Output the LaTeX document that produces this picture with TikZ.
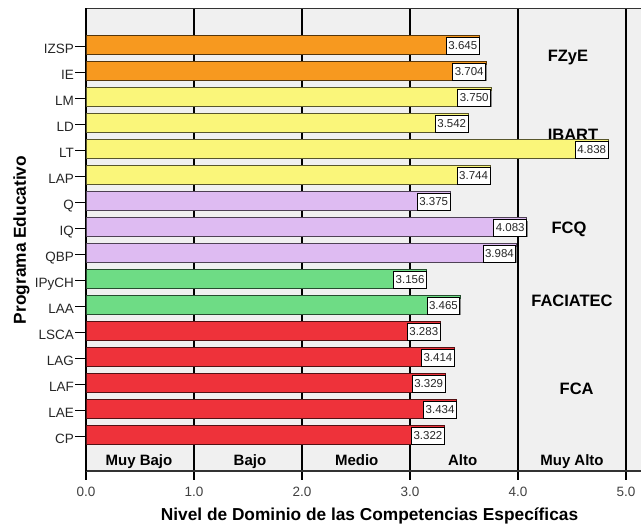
\documentclass[tikz,border=0pt]{standalone}
\usepackage{fontspec}
\setmainfont{Liberation Sans}
\usetikzlibrary{shadows}
\definecolor{bgc}{HTML}{F0F0F0}
\definecolor{cOr}{HTML}{F7991F}
\definecolor{cYe}{HTML}{FAF67A}
\definecolor{cLa}{HTML}{DEBBF2}
\definecolor{cGr}{HTML}{6EDC85}
\definecolor{cRe}{HTML}{EE323A}
\definecolor{tickc}{HTML}{404040}
\begin{document}
\begin{tikzpicture}[x=1pt,y=-1pt,
  ylab/.style={anchor=base east, inner sep=0pt, font=\fontsize{13.5}{15}\selectfont, text=black!85},
  valbox/.style={draw=black, line width=0.8pt, fill=white, inner xsep=2pt, inner ysep=0pt,
    minimum height=16.5pt, anchor=east, font=\fontsize{11.5}{12}\selectfont, text=black!85,
    drop shadow={shadow xshift=1pt, shadow yshift=-1pt, fill=black!45, opacity=1}},
  catlab/.style={anchor=base, inner sep=0pt, font=\bfseries\fontsize{15}{17}\selectfont},
  grplab/.style={anchor=base, inner sep=0pt, font=\bfseries\fontsize{16.5}{18}\selectfont},
  ticklab/.style={anchor=base, inner sep=0pt, font=\fontsize{13.5}{15}\selectfont, text=tickc},
  axtitle/.style={anchor=base, inner sep=0pt, font=\bfseries\fontsize{17.3}{19}\selectfont},
  gridl/.style={line width=1.8pt, black},
  bar/.style={line width=1pt}
]
\useasboundingbox (0,0) rectangle (641,525);
% plot background
\fill[bgc] (86,8) rectangle (641,471);
% grid lines and bottom ticks
\foreach \v in {1,...,5} {
  \draw[gridl] ({86+108*\v},8) -- ({86+108*\v},480);
}
\draw[line width=1.8pt] (86,471) -- (86,480);
% frame
\draw[line width=1pt, black!80] (86,8) -- (641,8);
\draw[line width=1.2pt, black!80] (86,471) -- (641,471);
\draw[line width=2pt] (86,8) -- (86,471);
% tick labels
\foreach \v in {0,...,5} {
  \node[ticklab] (t\v) at ({86+108*\v},496) {\v.0};
}
% category labels
\node[catlab] (c1) at (139,465) {Muy Bajo};
\node[catlab] (c2) at (250,465) {Bajo};
\node[catlab] (c3) at (356.7,465) {Medio};
\node[catlab] (c4) at (462.7,465) {Alto};
\node[catlab] (c5) at (572,465) {Muy Alto};
% group labels
\node[grplab] (g1) at (568,61.8) {FZyE};
\node[grplab] (g2) at (573,140) {IBART};
\node[grplab] (g3) at (569,233) {FCQ};
\node[grplab] (g4) at (572,306.7) {FACIATEC};
\node[grplab] (g5) at (576.7,394) {FCA};
% bars
\foreach \lab/\val/\col [count=\i from 0] in {
  IZSP/3.645/cOr, IE/3.704/cOr, LM/3.750/cYe, LD/3.542/cYe, LT/4.838/cYe, LAP/3.744/cYe,
  Q/3.375/cLa, IQ/4.083/cLa, QBP/3.984/cLa, IPyCH/3.156/cGr, LAA/3.465/cGr,
  LSCA/3.283/cRe, LAG/3.414/cRe, LAF/3.329/cRe, LAE/3.434/cRe, CP/3.322/cRe} {
  \pgfmathsetmacro{\yc}{44.5+26*\i}
  \pgfmathsetmacro{\xe}{86+108*\val}
  \node[ylab] (l\i) at (74,{\yc+8.5}) {\lab};
  \draw[line width=1.8pt] (75,{\yc+2}) -- (86,{\yc+2});
  \draw[bar, fill=\col, draw=\col!35!black] (86,{\yc-9.5}) rectangle (\xe,{\yc+9.5});
  \node[valbox] (v\i) at (\xe,{\yc+1.5}) {\val};
}
% axis titles
\node[axtitle] (xt) at (369.5,520.5) {Nivel de Dominio de las Competencias Específicas};
\node[axtitle, rotate=90] (yt) at (25.8,240) {Programa Educativo};
\end{tikzpicture}
\end{document}
